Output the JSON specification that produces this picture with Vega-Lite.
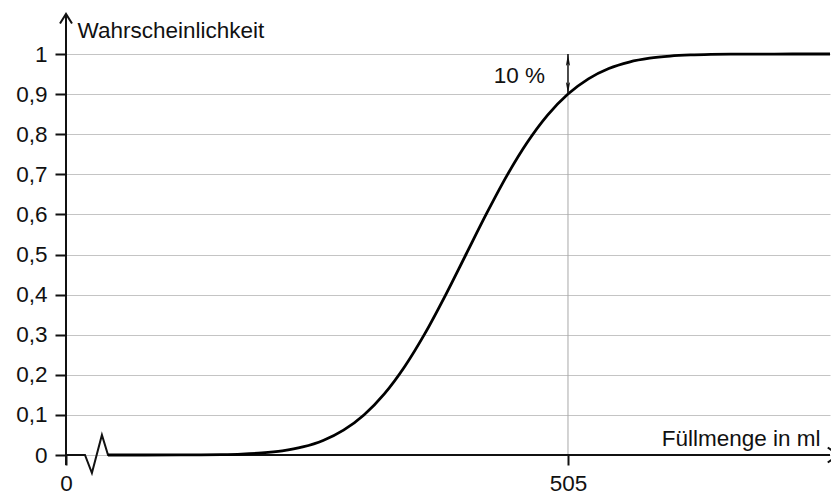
{
  "$schema": "https://vega.github.io/schema/vega-lite/v6.json",
  "width": 764,
  "height": 401,
  "autosize": "none",
  "padding": {"left": 66, "top": 54, "right": 1, "bottom": 41},
  "config": {
    "view": {"stroke": null},
    "font": "Liberation Sans",
    "axis": {"labelFont": "Liberation Sans", "titleFont": "Liberation Sans", "labelColor": "#111", "titleColor": "#111", "titleFontWeight": "normal"}
  },
  "datasets": {
    "curve": [
      {"x": 482.46, "y": 0.0},
      {"x": 484, "y": 0.00002},
      {"x": 486, "y": 0.00017},
      {"x": 487, "y": 0.00043},
      {"x": 488, "y": 0.00105},
      {"x": 489, "y": 0.0024},
      {"x": 490, "y": 0.0052},
      {"x": 491, "y": 0.0105},
      {"x": 492, "y": 0.0201},
      {"x": 493, "y": 0.0363},
      {"x": 494, "y": 0.062},
      {"x": 495, "y": 0.0999},
      {"x": 496, "y": 0.1525},
      {"x": 497, "y": 0.2209},
      {"x": 498, "y": 0.304},
      {"x": 499, "y": 0.3989},
      {"x": 500, "y": 0.5},
      {"x": 501, "y": 0.6011},
      {"x": 502, "y": 0.696},
      {"x": 503, "y": 0.7791},
      {"x": 504, "y": 0.8475},
      {"x": 505, "y": 0.9001},
      {"x": 506, "y": 0.938},
      {"x": 507, "y": 0.9637},
      {"x": 508, "y": 0.9799},
      {"x": 509, "y": 0.9895},
      {"x": 510, "y": 0.9948},
      {"x": 511, "y": 0.9976},
      {"x": 512, "y": 0.99895},
      {"x": 513, "y": 0.99957},
      {"x": 514, "y": 0.99983},
      {"x": 515, "y": 0.99992},
      {"x": 516, "y": 0.99998},
      {"x": 517.84, "y": 1.0}
    ],
    "xaxisline": [
      {"x": 480.4, "y": 0},
      {"x": 481.33, "y": 0},
      {"x": 481.67, "y": -0.045},
      {"x": 482.16, "y": 0.05},
      {"x": 482.46, "y": 0},
      {"x": 517.84, "y": 0}
    ],
    "yaxisline": [{"x": 480.4, "y": -0.025, "y2": 1.1}],
    "ref": [{"x": 505, "y": 0, "y2": 0.9}],
    "dbl": [{"x": 505, "y": 0.9, "y2": 1.0}],
    "top": [{"x": 505, "y": 1.0}],
    "bottom": [{"x": 505, "y": 0.9}],
    "yarrow": [{"x": 480.4, "y": 1.1}],
    "xarrow": [{"x": 517.84, "y": 0}],
    "label": [{"x": 505, "y": 0.944, "t": "10 %"}]
  },
  "encoding": {
    "x": {
      "field": "x", "type": "quantitative",
      "scale": {"domain": [480.4, 517.84], "nice": false, "zero": false},
      "axis": {
        "values": [480.4, 505],
        "labelExpr": "datum.value > 500 ? '505' : '0'",
        "labelFlush": false, "labelOverlap": false,
        "domain": false, "grid": false,
        "tickSize": 10, "tickWidth": 2, "tickColor": "#111",
        "labelFontSize": 22.5, "labelPadding": 7,
        "title": "Füllmenge in ml", "titleFontSize": 22.5,
        "titleAlign": "right", "titleBaseline": "alphabetic",
        "titleX": 754, "titleY": -10
      }
    },
    "y": {
      "field": "y", "type": "quantitative",
      "scale": {"domain": [0, 1], "nice": false, "zero": false},
      "axis": {
        "values": [0, 0.1, 0.2, 0.3, 0.4, 0.5, 0.6, 0.7, 0.8, 0.9, 1],
        "labelExpr": "replace(format(datum.value, '.1~f'), '.', ',')",
        "labelOverlap": false,
        "domain": false, "grid": true, "gridColor": "#c4c4c4", "gridWidth": 1,
        "tickSize": 11, "tickWidth": 2, "tickColor": "#111",
        "labelFontSize": 22.5, "labelPadding": 8,
        "title": "Wahrscheinlichkeit", "titleFontSize": 22.5,
        "titleAngle": 0, "titleAlign": "left", "titleBaseline": "alphabetic",
        "titleX": 11, "titleY": -17
      }
    }
  },
  "layer": [
    {
      "data": {"name": "ref"},
      "mark": {"type": "rule", "color": "#a8a8a8", "strokeWidth": 1},
      "encoding": {"y2": {"field": "y2"}}
    },
    {
      "data": {"name": "yaxisline"},
      "mark": {"type": "rule", "color": "#111", "strokeWidth": 2},
      "encoding": {"y2": {"field": "y2"}}
    },
    {
      "data": {"name": "xaxisline"},
      "mark": {"type": "line", "color": "#111", "strokeWidth": 2},
      "encoding": {"order": {"field": "x", "type": "quantitative"}}
    },
    {
      "data": {"name": "curve"},
      "mark": {"type": "line", "color": "#000", "strokeWidth": 2.8, "interpolate": "monotone"},
      "encoding": {}
    },
    {
      "data": {"name": "dbl"},
      "mark": {"type": "rule", "color": "#111", "strokeWidth": 1.5},
      "encoding": {"y2": {"field": "y2"}}
    },
    {
      "data": {"name": "top"},
      "mark": {"type": "point", "filled": true, "color": "#111", "opacity": 1, "size": 144, "yOffset": 6, "shape": "M0,-1L0.35,1L0,0.6L-0.35,1Z"}
    },
    {
      "data": {"name": "bottom"},
      "mark": {"type": "point", "filled": true, "color": "#111", "opacity": 1, "size": 144, "yOffset": -6, "shape": "M0,1L0.35,-1L0,-0.6L-0.35,-1Z"}
    },
    {
      "data": {"name": "yarrow"},
      "mark": {"type": "point", "filled": false, "color": "#111", "opacity": 1, "strokeWidth": 2, "size": 144, "yOffset": 4.8, "shape": "M-1,0.8L0,-0.8L1,0.8"}
    },
    {
      "data": {"name": "xarrow"},
      "mark": {"type": "point", "filled": false, "color": "#111", "opacity": 1, "strokeWidth": 2, "size": 225, "xOffset": 3, "shape": "M-0.7,-1L0.7,0L-0.7,1"}
    },
    {
      "data": {"name": "label"},
      "mark": {"type": "text", "align": "right", "baseline": "middle", "dx": -23, "fontSize": 22.5, "color": "#111", "font": "Liberation Sans"},
      "encoding": {"text": {"field": "t"}}
    }
  ]
}
